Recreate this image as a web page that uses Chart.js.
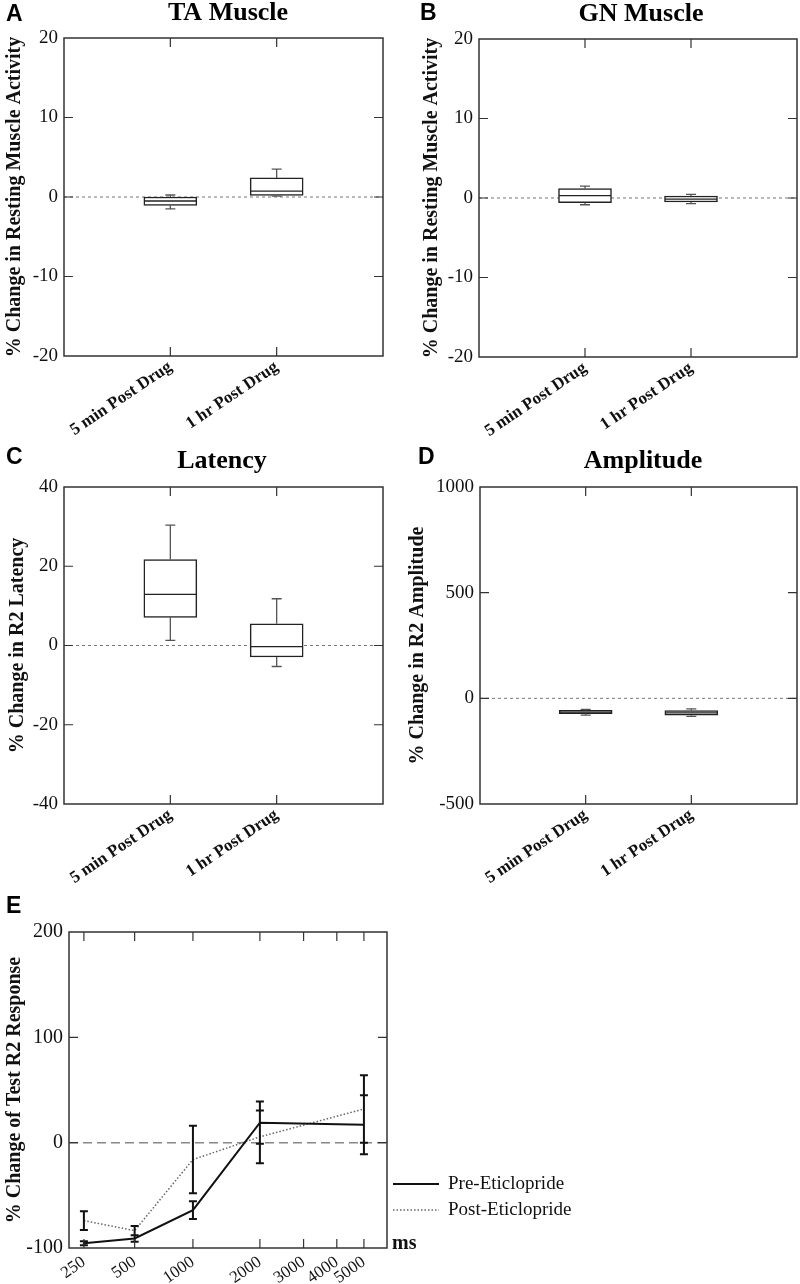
<!DOCTYPE html>
<html>
<head>
    <title>Eticlopride – muscle activity and R2 responses</title>
    <meta charset="UTF-8">
    <script src="https://cdn.jsdelivr.net/npm/chart.js"></script>
    <style>
        body {
            margin: 0;
            background: #fff;
            width: 800px;
            height: 1284px;
            position: relative;
            overflow: hidden;
        }
        canvas {
            position: absolute;
        }
    </style>
</head>
<body>
    <canvas id="chartA" width="400" height="446" style="left:0;top:0"></canvas>
    <canvas id="chartB" width="400" height="446" style="left:400px;top:0"></canvas>
    <canvas id="chartC" width="400" height="450" style="left:0;top:440px"></canvas>
    <canvas id="chartD" width="400" height="450" style="left:400px;top:440px"></canvas>
    <canvas id="chartE" width="800" height="404" style="left:0;top:880px"></canvas>

    <script>
        // ---- data ----
        const boxCategories = ['5 min Post Drug', '1 hr Post Drug'];

        // A: TA muscle
        const taMin = [-1.5, 0.1];
        const taQ1 = [-1.05, 0.2];
        const taMedian = [-0.5, 0.75];
        const taQ3 = [0, 2.4];
        const taMax = [0.25, 3.5];
        const taTicks = [-20, -10, 0, 10, 20];

        // B: GN muscle
        const gnMin = [-0.85, -0.7];
        const gnQ1 = [-0.6, -0.5];
        const gnMedian = [0.3, -0.15];
        const gnQ3 = [1.2, 0.25];
        const gnMax = [1.5, 0.45];
        const gnTicks = [-20, -10, 0, 10, 20];

        // C: R2 latency
        const latMin = [1.3, -5.3];
        const latQ1 = [7.1, -2.9];
        const latMedian = [12.9, -0.3];
        const latQ3 = [21.7, 5.5];
        const latMax = [30.4, 11.8];
        const latTicks = [-40, -20, 0, 20, 40];

        // D: R2 amplitude
        const ampMin = [-79, -85];
        const ampQ1 = [-72, -80];
        const ampMedian = [-65, -69];
        const ampQ3 = [-57, -58];
        const ampMax = [-52, -50];
        const ampTicks = [-500, 0, 500, 1000];

        // E: conditioning intervals (ms)
        const intervals = [250, 500, 1000, 2000, 5000];
        const intervalTicks = [250, 500, 1000, 2000, 3000, 4000, 5000];
        const preMean = [-95.5, -91, -64, 19, 17];
        const preErr = [2, 3, 8.5, 20, 28];
        const postMean = [-74, -83.5, -16, 5.5, 32];
        const postErr = [9, 4.5, 32, 25, 32];
        const condTicks = [-100, 0, 100, 200];

        const serif = '"Liberation Serif", "Times New Roman", serif';
        const sans = '"Liberation Sans", Arial, sans-serif';

        // x axis of panel E is a power scale (value ^ exponent)
        class PowerScale extends Chart.LinearScale {
            getPixelForValue(value) {
                const k = this.options.exponent;
                const lo = Math.pow(this.min, k), hi = Math.pow(this.max, k);
                return this.getPixelForDecimal((Math.pow(value, k) - lo) / (hi - lo));
            }
            getValueForPixel(pixel) {
                const k = this.options.exponent;
                const lo = Math.pow(this.min, k), hi = Math.pow(this.max, k);
                return Math.pow(lo + this.getDecimalForPixel(pixel) * (hi - lo), 1 / k);
            }
        }
        PowerScale.id = 'power';
        PowerScale.defaults = { exponent: 0.2 };
        Chart.register(PowerScale);

        // frame, inner ticks, zero line, panel letter and title
        const panelDecor = {
            id: 'panelDecor',
            beforeDatasetsDraw(chart, args, opts) {
                const { ctx, chartArea: a } = chart;
                const y0 = chart.scales.y.getPixelForValue(0);
                ctx.save();
                ctx.strokeStyle = opts.zeroColor;
                ctx.lineWidth = opts.zeroWidth;
                ctx.setLineDash(opts.zeroDash);
                ctx.beginPath();
                ctx.moveTo(a.left, y0);
                ctx.lineTo(a.right, y0);
                ctx.stroke();
                ctx.restore();
            },
            afterDraw(chart, args, opts) {
                const { ctx, chartArea: a } = chart;
                const x = chart.scales.x, y = chart.scales.y;
                ctx.save();
                ctx.strokeStyle = '#333';
                ctx.lineWidth = 1.5;
                ctx.strokeRect(a.left, a.top, a.right - a.left, a.bottom - a.top);

                ctx.lineWidth = 1.2;
                ctx.beginPath();
                y.ticks.forEach(t => {
                    if (t.value === y.min || t.value === y.max) return;
                    const py = y.getPixelForValue(t.value);
                    ctx.moveTo(a.left, py); ctx.lineTo(a.left + 9, py);
                    ctx.moveTo(a.right, py); ctx.lineTo(a.right - 9, py);
                });
                x.ticks.forEach(t => {
                    const px = x.getPixelForValue(t.value);
                    ctx.moveTo(px, a.top); ctx.lineTo(px, a.top + 9);
                    ctx.moveTo(px, a.bottom); ctx.lineTo(px, a.bottom - 9);
                });
                ctx.stroke();

                ctx.fillStyle = '#000';
                ctx.textBaseline = 'alphabetic';
                ctx.textAlign = 'left';
                ctx.font = 'bold 23px ' + sans;
                ctx.fillText(opts.letter, opts.letterX, opts.letterY);
                if (opts.title) {
                    ctx.textAlign = 'center';
                    ctx.font = 'bold 26px ' + serif;
                    ctx.fillText(opts.title, opts.titleX, opts.titleY);
                }
                ctx.restore();
            }
        };

        // whiskers and median for the box datasets
        const boxWhiskers = {
            id: 'boxWhiskers',
            afterDatasetsDraw(chart, args, opts) {
                const { ctx } = chart;
                const x = chart.scales.x, y = chart.scales.y;
                ctx.save();
                boxCategories.forEach((c, i) => {
                    const px = x.getPixelForValue(i + 1);
                    const q1 = y.getPixelForValue(opts.q1[i]);
                    const q3 = y.getPixelForValue(opts.q3[i]);
                    const lo = y.getPixelForValue(opts.mins[i]);
                    const hi = y.getPixelForValue(opts.maxs[i]);
                    const md = y.getPixelForValue(opts.medians[i]);
                    ctx.strokeStyle = '#555';
                    ctx.lineWidth = 1.3;
                    ctx.beginPath();
                    ctx.moveTo(px, q3); ctx.lineTo(px, hi);
                    ctx.moveTo(px - 5, hi); ctx.lineTo(px + 5, hi);
                    ctx.moveTo(px, q1); ctx.lineTo(px, lo);
                    ctx.moveTo(px - 5, lo); ctx.lineTo(px + 5, lo);
                    ctx.stroke();
                    ctx.strokeStyle = '#222';
                    ctx.lineWidth = 1.3;
                    ctx.beginPath();
                    ctx.moveTo(px - 26, md); ctx.lineTo(px + 26, md);
                    ctx.stroke();
                });
                ctx.restore();
            }
        };

        // error bars for panel E
        const errorBars = {
            id: 'errorBars',
            afterDatasetsDraw(chart) {
                const { ctx } = chart;
                const x = chart.scales.x, y = chart.scales.y;
                ctx.save();
                ctx.strokeStyle = '#111';
                ctx.lineWidth = 2;
                ctx.beginPath();
                [[preMean, preErr], [postMean, postErr]].forEach(([m, e]) => {
                    intervals.forEach((v, i) => {
                        const px = x.getPixelForValue(v);
                        const top = y.getPixelForValue(m[i] + e[i]);
                        const bot = y.getPixelForValue(m[i] - e[i]);
                        ctx.moveTo(px, top); ctx.lineTo(px, bot);
                        ctx.moveTo(px - 4, top); ctx.lineTo(px + 4, top);
                        ctx.moveTo(px - 4, bot); ctx.lineTo(px + 4, bot);
                    });
                });
                ctx.stroke();
                ctx.restore();
            }
        };

        // legend at the side of panel E plus the "ms" unit
        const sideLegend = {
            id: 'sideLegend',
            afterDraw(chart, args, opts) {
                const { ctx } = chart;
                ctx.save();
                chart.data.datasets.forEach((ds, i) => {
                    const yy = opts.y + i * opts.gap;
                    ctx.strokeStyle = ds.borderColor;
                    ctx.lineWidth = ds.borderWidth;
                    ctx.setLineDash(ds.borderDash || []);
                    ctx.beginPath();
                    ctx.moveTo(opts.x, yy);
                    ctx.lineTo(opts.x + 46, yy);
                    ctx.stroke();
                    ctx.setLineDash([]);
                    ctx.fillStyle = '#111';
                    ctx.font = '19px ' + serif;
                    ctx.textBaseline = 'middle';
                    ctx.textAlign = 'left';
                    ctx.fillText(ds.label, opts.x + 55, yy);
                });
                ctx.font = 'bold 20px ' + serif;
                ctx.textBaseline = 'alphabetic';
                ctx.fillText(opts.unit, opts.unitX, opts.unitY);
                ctx.restore();
            }
        };

        function makeBoxChart(id, p) {
            const canvas = document.getElementById(id);
            const W = canvas.width, H = canvas.height;
            return new Chart(canvas, {
                type: 'bar',
                data: {
                    datasets: [{
                        label: p.title,
                        data: boxCategories.map((c, i) => ({ x: i + 1, y: [p.q1[i], p.q3[i]] })),
                        backgroundColor: '#fff',
                        borderColor: '#222',
                        borderWidth: 1.5,
                        borderSkipped: false,
                        barThickness: 53
                    }]
                },
                options: {
                    responsive: false,
                    animation: false,
                    layout: { padding: { top: p.area.t, right: W - p.area.r, left: 0, bottom: 0 } },
                    plugins: {
                        legend: { display: false },
                        tooltip: { enabled: false },
                        panelDecor: {
                            letter: p.letter, letterX: p.letterX, letterY: p.letterY,
                            title: p.title, titleX: p.titleX, titleY: p.titleY,
                            zeroColor: '#777', zeroWidth: 1, zeroDash: [3, 3]
                        },
                        boxWhiskers: { mins: p.min, q1: p.q1, medians: p.med, q3: p.q3, maxs: p.max }
                    },
                    scales: {
                        x: {
                            type: 'linear',
                            offset: false,
                            min: 0,
                            max: boxCategories.length + 1,
                            grid: { display: false, drawTicks: false },
                            border: { display: false },
                            afterBuildTicks: s => { s.ticks = boxCategories.map((c, i) => ({ value: i + 1 })); },
                            afterFit: s => { s.height = H - p.area.b; },
                            ticks: {
                                autoSkip: false,
                                minRotation: 34,
                                maxRotation: 34,
                                padding: 1,
                                color: '#111',
                                font: { family: serif, size: 17, weight: 'bold' },
                                callback: v => boxCategories[v - 1]
                            }
                        },
                        y: {
                            min: p.ticks[0],
                            max: p.ticks[p.ticks.length - 1],
                            grid: { display: false, drawTicks: false },
                            border: { display: false },
                            afterBuildTicks: s => { s.ticks = p.ticks.map(v => ({ value: v })); },
                            afterFit: s => { s.width = p.area.l; },
                            ticks: {
                                padding: 6,
                                color: '#111',
                                font: { family: serif, size: 19 },
                                callback: v => String(v)
                            },
                            title: {
                                display: true,
                                text: p.yTitle,
                                color: '#111',
                                font: { family: serif, size: 20, weight: 'bold' },
                                padding: { top: p.yTitlePad, bottom: 0 }
                            }
                        }
                    }
                },
                plugins: [panelDecor, boxWhiskers]
            });
        }

        makeBoxChart('chartA', {
            min: taMin, q1: taQ1, med: taMedian, q3: taQ3, max: taMax, ticks: taTicks,
            title: 'TA Muscle', titleX: 228, titleY: 20,
            letter: 'A', letterX: 6, letterY: 21,
            yTitle: '% Change in Resting Muscle Activity', yTitlePad: 3,
            area: { l: 64, t: 38, r: 383, b: 356 }
        });

        makeBoxChart('chartB', {
            min: gnMin, q1: gnQ1, med: gnMedian, q3: gnQ3, max: gnMax, ticks: gnTicks,
            title: 'GN Muscle', titleX: 241, titleY: 21,
            letter: 'B', letterX: 20, letterY: 20,
            yTitle: '% Change in Resting Muscle Activity', yTitlePad: 20,
            area: { l: 79, t: 39, r: 397, b: 357 }
        });

        makeBoxChart('chartC', {
            min: latMin, q1: latQ1, med: latMedian, q3: latQ3, max: latMax, ticks: latTicks,
            title: 'Latency', titleX: 222, titleY: 28,
            letter: 'C', letterX: 6, letterY: 24,
            yTitle: '% Change in R2 Latency', yTitlePad: 6,
            area: { l: 64, t: 47, r: 383, b: 364 }
        });

        makeBoxChart('chartD', {
            min: ampMin, q1: ampQ1, med: ampMedian, q3: ampQ3, max: ampMax, ticks: ampTicks,
            title: 'Amplitude', titleX: 243, titleY: 28,
            letter: 'D', letterX: 18, letterY: 24,
            yTitle: '% Change in R2 Amplitude', yTitlePad: 6,
            area: { l: 80, t: 47, r: 397, b: 364 }
        });

        // panel E: paired-pulse curve
        const canvasE = document.getElementById('chartE');
        new Chart(canvasE, {
            type: 'line',
            data: {
                datasets: [{
                    label: 'Pre-Eticlopride',
                    data: intervals.map((v, i) => ({ x: v, y: preMean[i] })),
                    borderColor: '#111',
                    borderWidth: 2,
                    pointRadius: 0,
                    tension: 0
                }, {
                    label: 'Post-Eticlopride',
                    data: intervals.map((v, i) => ({ x: v, y: postMean[i] })),
                    borderColor: '#666',
                    borderWidth: 1.5,
                    borderDash: [1.5, 2],
                    pointRadius: 0,
                    tension: 0
                }]
            },
            options: {
                responsive: false,
                animation: false,
                layout: { padding: { top: 52, right: 800 - 387, left: 0, bottom: 0 } },
                plugins: {
                    legend: { display: false },
                    tooltip: { enabled: false },
                    panelDecor: {
                        letter: 'E', letterX: 6, letterY: 33,
                        zeroColor: '#888', zeroWidth: 1.5, zeroDash: [9, 5]
                    },
                    sideLegend: { x: 393, y: 304, gap: 26, unit: 'ms', unitX: 392, unitY: 369 }
                },
                scales: {
                    x: {
                        type: 'power',
                        exponent: 0.2,
                        min: 200,
                        max: 6000,
                        grid: { display: false, drawTicks: false },
                        border: { display: false },
                        afterBuildTicks: s => { s.ticks = intervalTicks.map(v => ({ value: v })); },
                        afterFit: s => { s.height = 404 - 368; },
                        ticks: {
                            autoSkip: false,
                            minRotation: 35,
                            maxRotation: 35,
                            padding: 4,
                            color: '#111',
                            font: { family: serif, size: 17 },
                            callback: v => String(v)
                        }
                    },
                    y: {
                        min: condTicks[0],
                        max: condTicks[condTicks.length - 1],
                        grid: { display: false, drawTicks: false },
                        border: { display: false },
                        afterBuildTicks: s => { s.ticks = condTicks.map(v => ({ value: v })); },
                        afterFit: s => { s.width = 69; },
                        ticks: {
                            padding: 6,
                            color: '#111',
                            font: { family: serif, size: 20 },
                            callback: v => String(v)
                        },
                        title: {
                            display: true,
                            text: '% Change of Test R2 Response',
                            color: '#111',
                            font: { family: serif, size: 20, weight: 'bold' },
                            padding: { top: 3, bottom: 0 }
                        }
                    }
                }
            },
            plugins: [panelDecor, errorBars, sideLegend]
        });
    </script>
</body>
</html>
